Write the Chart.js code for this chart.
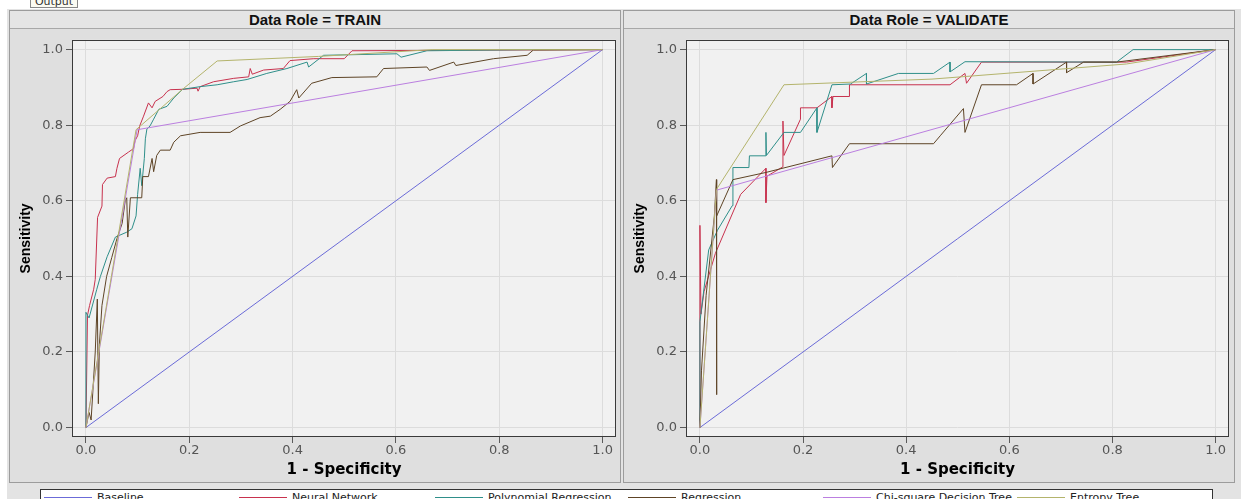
<!DOCTYPE html>
<html>
<head>
<meta charset="utf-8">
<script src="https://cdn.jsdelivr.net/npm/chart.js@4.4.1/dist/chart.umd.min.js"></script>
<style>
    html, body {
        margin: 0;
        padding: 0;
        width: 1241px;
        height: 499px;
        overflow: hidden;
        background: #ffffff;
        position: relative;
        font-family: "DejaVu Sans", sans-serif;
    }

    #fundo {
        position: absolute;
        left: 7px;
        top: 9px;
        width: 1234px;
        height: 490px;
        background: #e3e3e3;
    }

    .painel {
        position: absolute;
        top: 10px;
        width: 610px;
        height: 471px;
        border: 1px solid #9c9c9c;
        background: #dfdfdf;
    }

    .titulo {
        position: absolute;
        left: 0;
        top: 0;
        width: 100%;
        height: 17px;
        border-bottom: 1px solid #a8a8a8;
        background: #e5e5e5;
        text-align: center;
        line-height: 18px;
        font: bold 15px "Liberation Sans", Arial, sans-serif;
        color: #111111;
    }

    canvas {
        position: absolute;
        top: 29px;
    }

    #aba {
        position: absolute;
        left: 30px;
        top: -4px;
        width: 46px;
        height: 10px;
        border: 1px solid #888888;
        background: #fbfbf2;
        font: 11px "DejaVu Sans", sans-serif;
        line-height: 10px;
        text-align: center;
        color: #333333;
        overflow: hidden;
    }

    #legenda {
        position: absolute;
        left: 40px;
        top: 489px;
        width: 1173px;
        height: 16px;
        box-sizing: border-box;
        border: 1px solid #333333;
        background: #ffffff;
    }

    .item {
        position: absolute;
        top: 0;
        height: 14px;
        white-space: nowrap;
    }

    .item .traco {
        position: absolute;
        left: 0;
        top: 7px;
        width: 48px;
        height: 0;
        border-top: 1px solid;
    }

    .item span {
        position: absolute;
        left: 53px;
        top: 1px;
        line-height: 14px;
        font: 11px "DejaVu Sans", sans-serif;
        color: #222222;
    }
</style>
</head>
<body>

<div id="fundo"></div>

<div class="painel" style="left: 9px;">
    <div class="titulo">Data Role = TRAIN</div>
</div>

<div class="painel" style="left: 623px;">
    <div class="titulo">Data Role = VALIDATE</div>
</div>

<div id="aba">Output</div>

<canvas id="graficoTreino" width="610" height="452" style="left: 10px;"></canvas>
<canvas id="graficoValidacao" width="610" height="452" style="left: 624px;"></canvas>

<div id="legenda"></div>

<script>

// séries (1 - especificidade, sensibilidade)

const nomesSeries = [
    "Baseline",
    "Neural Network",
    "Polynomial Regression",
    "Regression",
    "Chi-square Decision Tree",
    "Entropy Tree"
];

const coresSeries = [
    "#6b6bd8",
    "#c8324e",
    "#2f8f8a",
    "#5e4426",
    "#bb7fe0",
    "#b4b46c"
];

const marcasEixo = [0, 0.2, 0.4, 0.6, 0.8, 1.0];

const treinoBaseline = [[0, 0], [1, 1]];

const treinoNeural = [
    [0, 0], [0.003, 0.297], [0.007, 0.323], [0.015, 0.366], [0.018, 0.392],
    [0.0225, 0.556], [0.031, 0.586], [0.032, 0.643], [0.041, 0.660], [0.057, 0.664],
    [0.060, 0.686], [0.065, 0.712], [0.0825, 0.729], [0.092, 0.738], [0.095, 0.759],
    [0.100, 0.772], [0.104, 0.798], [0.1115, 0.824], [0.121, 0.859], [0.128, 0.846],
    [0.134, 0.863], [0.149, 0.876], [0.157, 0.889], [0.163, 0.894], [0.187, 0.895],
    [0.215, 0.898], [0.217, 0.890], [0.221, 0.902], [0.247, 0.915], [0.286, 0.924],
    [0.315, 0.928], [0.318, 0.950], [0.322, 0.935], [0.344, 0.946], [0.382, 0.950],
    [0.395, 0.971], [0.441, 0.976], [0.500, 0.976], [0.515, 0.997], [1, 1]
];

const treinoPolinomial = [
    [0, 0], [0, 0.305], [0.006, 0.290], [0.021, 0.366], [0.028, 0.400],
    [0.041, 0.452], [0.057, 0.504], [0.079, 0.517], [0.089, 0.526], [0.097, 0.560],
    [0.100, 0.617], [0.105, 0.686], [0.108, 0.640], [0.113, 0.712], [0.115, 0.764],
    [0.118, 0.790], [0.124, 0.798], [0.131, 0.816], [0.141, 0.842], [0.157, 0.850],
    [0.170, 0.872], [0.187, 0.895], [0.221, 0.902], [0.254, 0.907], [0.286, 0.915],
    [0.312, 0.921], [0.350, 0.937], [0.389, 0.950], [0.428, 0.967], [0.431, 0.954],
    [0.460, 0.985], [0.602, 0.989], [0.610, 0.980], [0.660, 0.997], [0.866, 1.0],
    [1, 1]
];

const treinoRegressao = [
    [0, 0], [0.006, 0.040], [0.010, 0.020], [0.018, 0.200], [0.022, 0.340],
    [0.024, 0.063], [0.026, 0.220], [0.031, 0.323], [0.040, 0.400], [0.050, 0.450],
    [0.060, 0.500], [0.070, 0.540], [0.076, 0.600], [0.079, 0.608], [0.081, 0.504],
    [0.086, 0.608], [0.108, 0.608], [0.110, 0.664], [0.121, 0.664], [0.128, 0.712],
    [0.131, 0.677], [0.137, 0.720], [0.144, 0.734], [0.163, 0.734], [0.170, 0.755],
    [0.183, 0.772], [0.221, 0.781], [0.279, 0.781], [0.299, 0.798], [0.337, 0.820],
    [0.357, 0.824], [0.376, 0.842], [0.395, 0.863], [0.408, 0.894], [0.412, 0.872],
    [0.437, 0.911], [0.476, 0.926], [0.563, 0.928], [0.576, 0.950], [0.660, 0.954],
    [0.665, 0.945], [0.712, 0.967], [0.716, 0.958], [0.789, 0.976], [0.854, 0.985],
    [0.866, 0.999], [1, 1]
];

const treinoQuiQuadrado = [[0, 0], [0.099, 0.788], [1, 1]];

const treinoEntropia = [
    [0, 0], [0.097, 0.788], [0.187, 0.895], [0.254, 0.970],
    [0.450, 0.982], [0.670, 1.0], [1, 1]
];

const validacaoBaseline = [[0, 0], [1, 1]];

const validacaoNeural = [
    [0, 0], [0, 0.535], [0.002, 0.300], [0.008, 0.360], [0.030, 0.461],
    [0.0626, 0.565], [0.079, 0.617], [0.128, 0.686], [0.128, 0.595], [0.130, 0.665],
    [0.161, 0.690], [0.161, 0.811], [0.163, 0.720], [0.195, 0.816], [0.195, 0.846],
    [0.227, 0.846], [0.256, 0.876], [0.256, 0.846], [0.258, 0.876], [0.290, 0.876],
    [0.290, 0.907], [0.485, 0.907], [0.514, 0.937], [0.517, 0.911], [0.546, 0.967],
    [0.827, 0.967], [1, 1]
];

const validacaoPolinomial = [
    [0, 0], [0, 0.280], [0.017, 0.470], [0.034, 0.522], [0.0626, 0.587],
    [0.064, 0.688], [0.095, 0.688], [0.096, 0.719], [0.128, 0.719], [0.128, 0.781],
    [0.129, 0.720], [0.163, 0.781], [0.195, 0.781], [0.227, 0.846], [0.227, 0.781],
    [0.256, 0.907], [0.292, 0.909], [0.323, 0.937], [0.323, 0.909], [0.385, 0.937],
    [0.453, 0.937], [0.485, 0.967], [0.485, 0.941], [0.514, 0.968], [0.808, 0.967],
    [0.840, 1.0], [1, 1]
];

const validacaoRegressao = [
    [0, 0], [0.003, 0.150], [0.012, 0.350], [0.028, 0.560], [0.032, 0.656],
    [0.032, 0.087], [0.033, 0.560], [0.064, 0.656], [0.128, 0.675], [0.256, 0.719],
    [0.257, 0.688], [0.290, 0.751], [0.453, 0.751], [0.466, 0.772], [0.511, 0.844],
    [0.514, 0.781], [0.546, 0.907], [0.614, 0.907], [0.646, 0.937], [0.646, 0.909],
    [0.711, 0.967], [0.711, 0.939], [0.744, 0.967], [0.808, 0.967], [1, 1]
];

const validacaoQuiQuadrado = [[0, 0], [0.032, 0.628], [1, 1]];

const validacaoEntropia = [
    [0, 0], [0.032, 0.630], [0.163, 0.907], [0.450, 0.922],
    [0.827, 0.962], [1, 1]
];

const seriesTreino = [
    treinoBaseline,
    treinoNeural,
    treinoPolinomial,
    treinoRegressao,
    treinoQuiQuadrado,
    treinoEntropia
];

const seriesValidacao = [
    validacaoBaseline,
    validacaoNeural,
    validacaoPolinomial,
    validacaoRegressao,
    validacaoQuiQuadrado,
    validacaoEntropia
];

// fundo e moldura da área do gráfico
const moldura = {

    id: "moldura",

    beforeDraw(chart) {

        const { ctx, chartArea: a } = chart;

        ctx.save();
        ctx.fillStyle = "#f1f1f1";
        ctx.fillRect(a.left, a.top, a.right - a.left, a.bottom - a.top);
        ctx.restore();
    },

    afterDraw(chart) {

        const { ctx, chartArea: a } = chart;

        ctx.save();
        ctx.strokeStyle = "#3a3a3a";
        ctx.lineWidth = 1;
        ctx.strokeRect(
            Math.round(a.left) + 0.5,
            Math.round(a.top) + 0.5,
            Math.round(a.right - a.left) - 1,
            Math.round(a.bottom - a.top) - 1
        );
        ctx.restore();
    }
};

function criarGrafico(idCanvas, series, folgaDireita) {

    const canvas =
        document.getElementById(idCanvas);

    const grade = {
        color: "#dcdcdc",
        lineWidth: 1,
        drawTicks: true,
        tickLength: 6,
        tickColor: "#5a5a5a",
        tickWidth: 1
    };

    const fonteMarcas = {
        family: "DejaVu Sans",
        size: 13
    };

    return new Chart(canvas, {

        type: "scatter",

        data: {

            datasets: series.map((pontos, i) => ({

                label: nomesSeries[i],

                data: pontos.map(p => ({ x: p[0], y: p[1] })),

                showLine: true,

                borderColor: coresSeries[i],

                backgroundColor: coresSeries[i],

                borderWidth: 1,

                pointRadius: 0,

                pointHoverRadius: 0,

                tension: 0,

                order: -i
            }))
        },

        options: {

            responsive: false,

            animation: false,

            devicePixelRatio: 1,

            events: [],

            layout: {
                padding: { left: 0, top: 3, right: folgaDireita, bottom: 0 }
            },

            plugins: {
                legend: { display: false },
                tooltip: { enabled: false }
            },

            scales: {

                x: {

                    type: "linear",

                    min: -0.027,

                    max: 1.026,

                    afterBuildTicks: escala => {
                        escala.ticks = marcasEixo.map(v => ({ value: v }));
                    },

                    afterFit: escala => {
                        escala.height = 44;
                    },

                    grid: grade,

                    border: { display: false },

                    ticks: {
                        font: fonteMarcas,
                        color: "#555555",
                        padding: 0,
                        maxRotation: 0,
                        autoSkip: false,
                        callback: v => Number(v).toFixed(1)
                    },

                    title: {
                        display: true,
                        text: "1 - Specificity",
                        color: "#000000",
                        font: {
                            family: "DejaVu Sans",
                            size: 15,
                            weight: "bold"
                        },
                        padding: { top: 0, bottom: 2 }
                    }
                },

                y: {

                    type: "linear",

                    min: -0.025,

                    max: 1.026,

                    afterBuildTicks: escala => {
                        escala.ticks = marcasEixo.map(v => ({ value: v }));
                    },

                    afterFit: escala => {
                        escala.width = 62;
                    },

                    grid: grade,

                    border: { display: false },

                    ticks: {
                        font: fonteMarcas,
                        color: "#555555",
                        padding: 3,
                        autoSkip: false,
                        callback: v => Number(v).toFixed(1)
                    },

                    title: {
                        display: true,
                        text: "Sensitivity",
                        color: "#000000",
                        font: {
                            family: "Liberation Sans",
                            size: 14,
                            weight: "bold"
                        },
                        padding: { top: 8, bottom: 0 }
                    }
                }
            }
        },

        plugins: [moldura]
    });
}

function montarLegenda() {

    const legenda =
        document.getElementById("legenda");

    const colunas = [3, 198, 394, 587, 782, 976];

    nomesSeries.forEach((nome, i) => {

        const item = document.createElement("div");
        item.className = "item";
        item.style.left = colunas[i] + "px";

        const traco = document.createElement("div");
        traco.className = "traco";
        traco.style.borderTopColor = coresSeries[i];

        const texto = document.createElement("span");
        texto.textContent = nome;

        item.appendChild(traco);
        item.appendChild(texto);
        legenda.appendChild(item);
    });
}

criarGrafico("graficoTreino", seriesTreino, 4);

criarGrafico("graficoValidacao", seriesValidacao, 5);

montarLegenda();

</script>
</body>
</html>
